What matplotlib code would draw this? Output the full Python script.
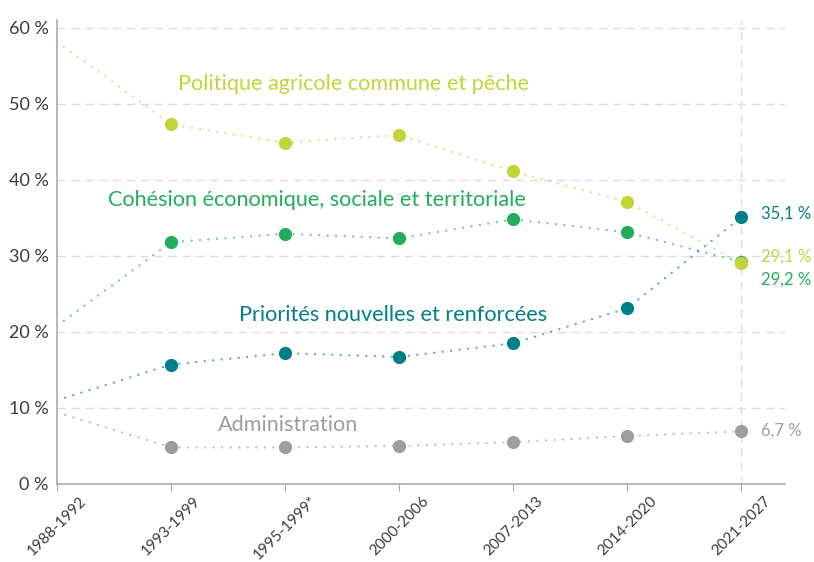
import numpy as np
import matplotlib.pyplot as plt

# --- DONNÉES ---
periodes = ["1988-1992", "1993-1999", "1995-1999*", "2000-2006",
            "2007-2013", "2014-2020", "2021-2027"]
pac = [58.2, 47.3, 44.9, 45.9, 41.1, 37.1, 29.0]
cohesion = [20.8, 31.8, 32.9, 32.3, 34.8, 33.1, 29.2]
priorites = [11.0, 15.7, 17.2, 16.7, 18.5, 23.1, 35.1]
administration = [9.4, 4.8, 4.8, 5.0, 5.5, 6.3, 6.9]

noms = ["Politique agricole commune et pêche",
        "Cohésion économique, sociale et territoriale",
        "Priorités nouvelles et renforcées",
        "Administration"]
etiquettes_fin = ["29,1 %", "29,2 %", "35,1 %", "6,7 %"]
y_ticks = [0, 10, 20, 30, 40, 50, 60]

couleurs = ["#c3d43b", "#22ad5c", "#007f89", "#9d9d9d"]

plt.rcParams['font.family'] = ['Lato', 'DejaVu Sans']

fig = plt.figure(figsize=(8.14, 5.62), dpi=100)
ax = fig.add_axes([0.070, 0.139, 0.894, 0.825])

x = np.arange(len(periodes))
series = [pac, cohesion, priorites, administration]

# grille
for yt in y_ticks[1:]:
    ax.axhline(yt, color="#dcdcdc", lw=1, ls=(0, (6, 4)), zorder=0)
ax.axvline(x[-1], color="#dcdcdc", lw=1, ls=(0, (6, 4)), zorder=0)

# ordre de dessin : PAC en dernier pour recouvrir la cohésion en 2021
ordre = [3, 2, 1, 0]
for i in ordre:
    vals = series[i]
    c = couleurs[i]
    ax.plot(x, vals, color=c, lw=1.7, alpha=0.65,
            ls=(0, (0.01, 3.6)), dash_capstyle="round", zorder=2)
    ax.plot(x[1:], vals[1:], 'o', color=c, markersize=9.5,
            markeredgewidth=0, zorder=3 + (3 - i))

# noms des séries
pos_noms = [(1.06, 52.6), (0.45, 37.4), (1.6, 22.2), (1.41, 7.7)]
for i, (xn, yn) in enumerate(pos_noms):
    ax.text(xn, yn, noms[i], color=couleurs[i], fontsize=15.6,
            ha="left", va="center")

# étiquettes de fin
pos_fin = [29.9, 26.9, 35.6, 7.0]
for i, yv in enumerate(pos_fin):
    ax.text(6.17, yv, etiquettes_fin[i], color=couleurs[i], fontsize=12,
            ha="left", va="center")

ax.set_xlim(0, 6.38)
ax.set_ylim(0, 61)
ax.set_yticks(y_ticks)
ax.set_yticklabels([f"{v} %" for v in y_ticks], fontsize=13, color="#3c3c3c")
ax.set_xticks(x)
ax.set_xticklabels(periodes, rotation=45, ha="center",
                   fontsize=11, color="#3c3c3c")
ax.tick_params(axis="y", length=0, pad=6)
ax.tick_params(axis="x", length=5, color="#aaaaaa", pad=2)

for s in ["top", "right"]:
    ax.spines[s].set_visible(False)
ax.spines["left"].set_color("#aaaaaa")
ax.spines["bottom"].set_color("#aaaaaa")
ax.spines["left"].set_linewidth(1.2)
ax.spines["bottom"].set_linewidth(1.2)

fig.savefig("out.png", dpi=100)
